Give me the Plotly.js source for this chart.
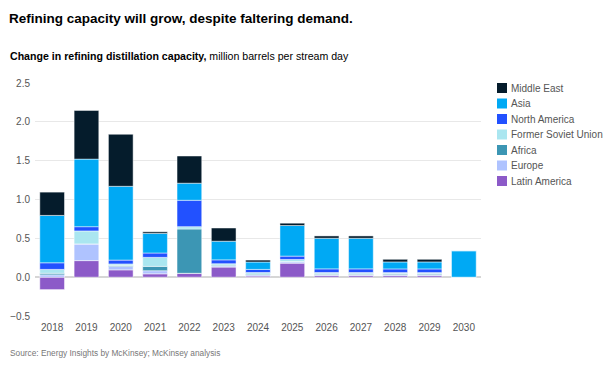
<!DOCTYPE html>
<html>
<head>
<meta charset="utf-8">
<script src="https://cdn.plot.ly/plotly-3.0.1.min.js"></script>
<style>html,body{margin:0;padding:0;background:#fff;}#chart{width:612px;height:374px;}</style>
</head>
<body>
<div id="chart"></div>
<script>
const years = ['2018','2019','2020','2021','2022','2023','2024','2025','2026','2027','2028','2029','2030'];
const latinAmerica = [-0.16, 0.213, 0.094, 0.043, 0.05, 0.13, 0.015, 0.18, 0.02, 0.02, 0.02, 0.02, 0];
const europe       = [0.03, 0.215, 0.043, 0.04, 0, 0.015, 0.015, 0.017, 0.013, 0.013, 0.013, 0.013, 0];
const africa       = [0.02, 0, 0.013, 0.056, 0.57, 0.01, 0.01, 0.005, 0.01, 0.01, 0.013, 0.013, 0];
const fsu          = [0.05, 0.167, 0.02, 0.116, 0.03, 0.018, 0.02, 0.026, 0.017, 0.017, 0.013, 0.013, 0];
const northAmerica = [0.085, 0.055, 0.05, 0.056, 0.34, 0.05, 0.04, 0.043, 0.047, 0.047, 0.047, 0.047, 0];
const asia         = [0.61, 0.87, 0.95, 0.253, 0.22, 0.24, 0.095, 0.394, 0.394, 0.394, 0.09, 0.09, 0.34];
const middleEast   = [0.30, 0.627, 0.67, 0.02, 0.35, 0.17, 0.025, 0.03, 0.03, 0.03, 0.034, 0.034, 0];

const series = [
  {name:'Latin America', y: latinAmerica, color:'#8c5ac8'},
  {name:'Europe', y: europe, color:'#afc3ff'},
  {name:'Africa', y: africa, color:'#3c96b4'},
  {name:'Former Soviet Union', y: fsu, color:'#aae6f0'},
  {name:'North America', y: northAmerica, color:'#2251ff'},
  {name:'Asia', y: asia, color:'#00a9f4'},
  {name:'Middle East', y: middleEast, color:'#051c2c'}
];

const traces = series.map(s => ({
  type:'bar', name:s.name, x:years, y:s.y, showlegend:false,
  marker:{color:s.color, line:{color:'rgba(255,255,255,0.6)', width:0.8}},
  hoverinfo:'skip'
}));

// plot area geometry (pixels) for placing legend/text in paper coords
const L = 35, R = 481, T = 83, B = 316;
const px = x => (x - L) / (R - L);
const py = y => (B - y) / (B - T);

const FONT = 'Liberation Sans, Arial, sans-serif';
const shapes = [];
const annotations = [
  {text:'<b>Change in refining distillation capacity,</b> million barrels per stream day',
   xref:'paper', yref:'paper', x:px(8), y:py(56), xanchor:'left', yanchor:'middle',
   showarrow:false, font:{family:FONT, size:10.6, color:'#000'}},
  {text:'Source: Energy Insights by McKinsey; McKinsey analysis',
   xref:'paper', yref:'paper', x:px(8), y:py(353), xanchor:'left', yanchor:'middle',
   showarrow:false, font:{family:FONT, size:8.3, color:'#777'}}
];
series.slice().reverse().forEach((s, i) => {
  const cy = 88 + 15.5 * i;
  shapes.push({type:'rect', xref:'paper', yref:'paper', x0:px(497), x1:px(507),
    y0:py(cy + 5), y1:py(cy - 5), fillcolor:s.color, line:{width:0}});
  annotations.push({text:s.name, xref:'paper', yref:'paper', x:px(509), y:py(cy),
    xanchor:'left', yanchor:'middle', showarrow:false, font:{family:FONT, size:10, color:'#555'}});
});

const layout = {
  width:612, height:374,
  margin:{l:L, r:612 - R, t:T, b:374 - B},
  paper_bgcolor:'#fff', plot_bgcolor:'#fff',
  barmode:'relative', bargap:0.28,
  font:{family:FONT, size:10, color:'#555'},
  showlegend:false,
  xaxis:{type:'category', showgrid:false, zeroline:false, showline:false, ticks:'',
         ticklabelstandoff:4, tickfont:{size:10, color:'#555'}},
  yaxis:{range:[-0.5,2.5], tickvals:[-0.5,0,0.5,1,1.5,2,2.5],
         ticktext:['\u22120.5','0.0','0.5','1.0','1.5','2.0','2.5'],
         gridcolor:'#e8e8e8', gridwidth:1, zeroline:true, zerolinecolor:'#d6d6d6', zerolinewidth:1.5,
         showline:false, ticks:'', ticklabelstandoff:4, tickfont:{size:10, color:'#555'}},
  title:{text:'<b>Refining capacity will grow, despite faltering demand.</b>',
         x:9/612, xref:'container', xanchor:'left', y:1 - 18/374, yref:'container', yanchor:'middle',
         font:{family:FONT, size:13.5, color:'#000'}},
  shapes:shapes,
  annotations:annotations
};

Plotly.newPlot('chart', traces, layout, {displayModeBar:false, staticPlot:true});
</script>
</body>
</html>
